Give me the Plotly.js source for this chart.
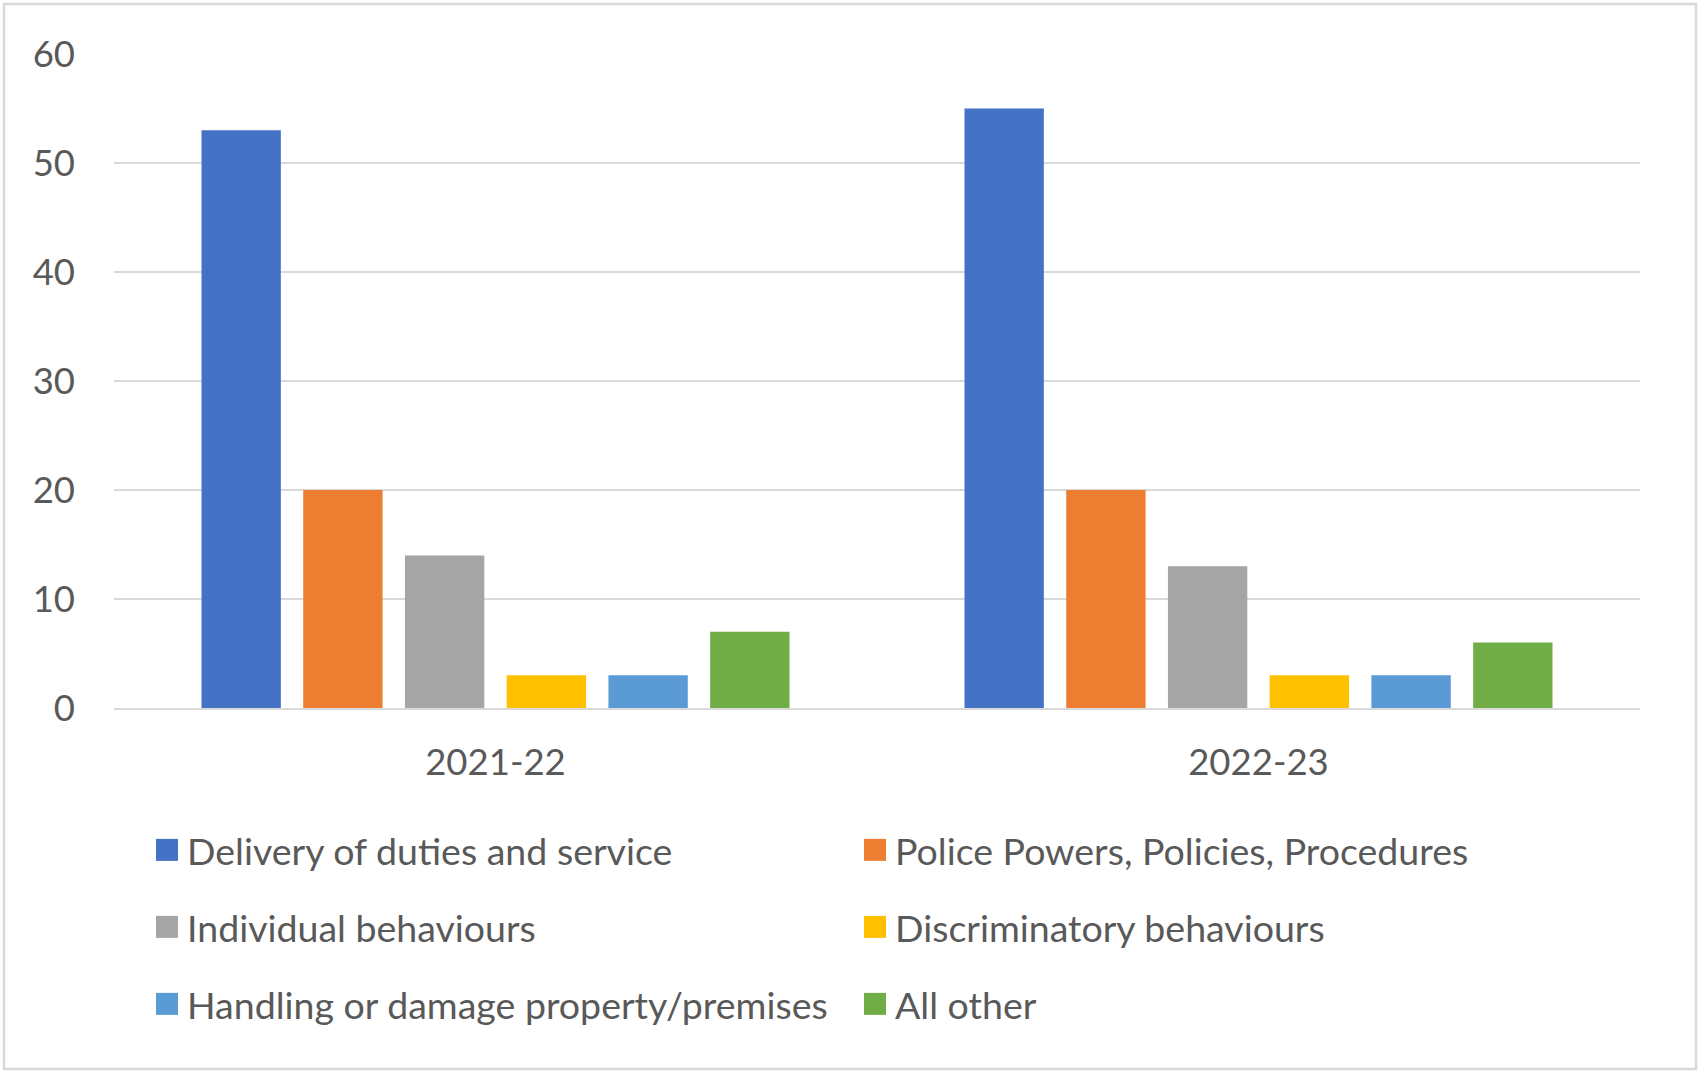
<!DOCTYPE html>
<html>
<head>
<meta charset="utf-8">
<script src="https://cdn.plot.ly/plotly-3.0.1.min.js"></script>
<style>
  html, body { margin: 0; padding: 0; background: #ffffff; }
  #chart { width: 1700px; height: 1077px; }
</style>
</head>
<body>
<div id="chart"></div>
<script>
// ---- data ----
const years = ["2021-22", "2022-23"];
const seriesNames = [
  "Delivery of duties and service",
  "Police Powers, Policies, Procedures",
  "Individual behaviours",
  "Discriminatory behaviours",
  "Handling or damage property/premises",
  "All other"
];
const deliveryOfDuties = [53, 55];
const policePowers = [20, 20];
const individualBehaviours = [14, 13];
const discriminatoryBehaviours = [3, 3];
const handlingProperty = [3, 3];
const allOther = [7, 6];
const yTickValues = [0, 10, 20, 30, 40, 50, 60];

// ---- styles ----
const seriesValues = [deliveryOfDuties, policePowers, individualBehaviours,
                      discriminatoryBehaviours, handlingProperty, allOther];
const colors = ["#4472C4", "#ED7D31", "#A5A5A5", "#FFC000", "#5B9BD5", "#70AD47"];
const legendIds = ["legend", "legend", "legend2", "legend2", "legend3", "legend3"];
const FONT = "Lato, 'Open Sans', sans-serif";
const TXT = "#595959";
const W = 1700, H = 1077;

const traces = seriesNames.map((name, i) => ({
  type: "bar",
  name: name,
  x: years,
  y: seriesValues[i],
  marker: { color: colors[i] },
  legend: legendIds[i],
  hoverinfo: "x+y+name"
}));

function legendDef(centerY) {
  return {
    orientation: "h",
    xref: "container", yref: "container",
    x: 147 / W, xanchor: "left",
    y: 1 - centerY / H, yanchor: "middle",
    entrywidth: 663, entrywidthmode: "pixels",
    font: { family: FONT, size: 37.5, color: TXT },
    bgcolor: "rgba(0,0,0,0)",
    borderwidth: 0,
    itemclick: false, itemdoubleclick: false,
    traceorder: "normal"
  };
}

const plotL = 114, plotR = 1640, plotT = 54, plotB = 708;
const pw = plotR - plotL, ph = plotB - plotT;

const layout = {
  width: W, height: H,
  margin: { l: plotL, r: W - plotR, t: plotT, b: H - plotB, pad: 0 },
  paper_bgcolor: "#ffffff",
  plot_bgcolor: "#ffffff",
  font: { family: FONT, size: 36, color: TXT },
  barmode: "group",
  bargap: 0.2,
  bargroupgap: 0.22,
  showlegend: true,
  legend: legendDef(850),
  legend2: legendDef(927),
  legend3: legendDef(1004),
  xaxis: {
    type: "category",
    showgrid: false,
    showline: true, linecolor: "#d9d9d9", linewidth: 2,
    ticks: "", ticklabelstandoff: 21,
    tickfont: { family: FONT, size: 36.5, color: TXT },
    fixedrange: true
  },
  yaxis: {
    range: [0, 60],
    tickvals: yTickValues,
    ticktext: yTickValues.map(String),
    showgrid: true, gridcolor: "#d9d9d9", gridwidth: 2,
    zeroline: false, showline: false,
    ticks: "", ticklabelstandoff: 38,
    tickfont: { family: FONT, size: 36.5, color: TXT },
    fixedrange: true
  },
  shapes: [{
    type: "rect", xref: "paper", yref: "paper", layer: "above",
    x0: (4 - plotL) / pw, x1: (1696 - plotL) / pw,
    y0: (plotB - 1069) / ph, y1: (plotB - 4) / ph,
    line: { color: "#d9d9d9", width: 2.5 },
    fillcolor: "rgba(0,0,0,0)"
  }]
};

Plotly.newPlot("chart", traces, layout, { displayModeBar: false, staticPlot: false })
  .then(function () {
    document.querySelectorAll("#chart .legendpoints path").forEach(function (p) {
      p.setAttribute("d", "M11,11H-11V-11H11Z");
    });
  });
</script>
</body>
</html>
